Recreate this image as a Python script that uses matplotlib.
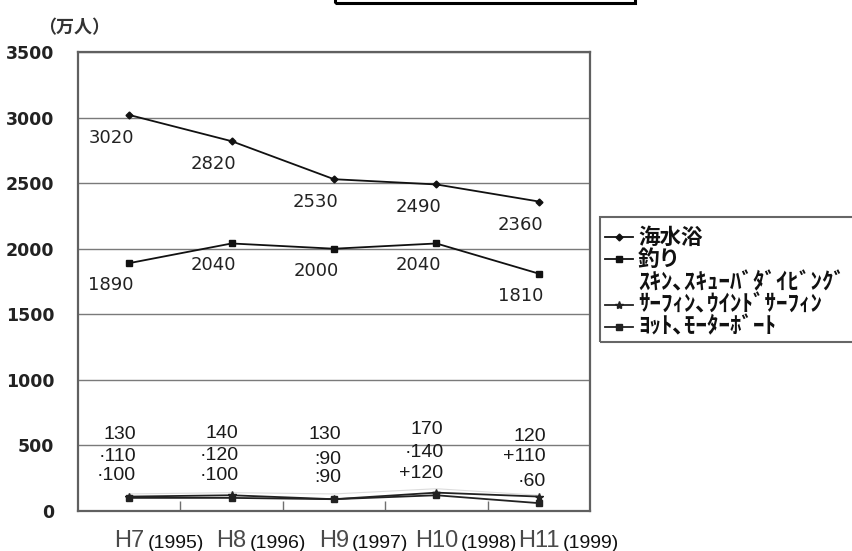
import matplotlib
matplotlib.use("Agg")
import matplotlib.pyplot as plt
from matplotlib.lines import Line2D
from matplotlib.patches import Rectangle

plt.rcParams['font.family'] = ['Noto Sans CJK JP', 'DejaVu Sans']

# Categories (Heisei year, Western year)
era_labels = ["H7", "H8", "H9", "H10", "H11"]
year_labels = ["(1995)", "(1996)", "(1997)", "(1998)", "(1999)"]

# Visitors, in units of 10,000 people
kaisuiyoku = [3020, 2820, 2530, 2490, 2360]
tsuri = [1890, 2040, 2000, 2040, 1810]
skin_scuba = [130, 140, 130, 170, 120]
surfing = [110, 120, 90, 140, 110]
yacht = [100, 100, 90, 120, 60]

series_names = ["海水浴", "釣り", "ｽｷﾝ､ｽｷｭｰﾊﾞﾀﾞｲﾋﾞﾝｸﾞ", "ｻｰﾌｨﾝ､ｳｲﾝﾄﾞｻｰﾌｨﾝ", "ﾖｯﾄ､ﾓｰﾀｰﾎﾞｰﾄ"]

# Prefix glyphs printed in front of the small-series values
surf_prefix = ["·", "·", ":", "·", "+"]
yacht_prefix = ["·", "·", ":", "+", "·"]

W, H = 853, 551
fig = plt.figure(figsize=(W / 100, H / 100), dpi=100)
fig.patch.set_facecolor("white")
ax = fig.add_axes([78 / W, 1 - 511 / H, (590 - 78) / W, (511 - 52) / H])


def px(xp, yp):
    """Figure pixel position (from top-left) to figure fraction."""
    return xp / W, 1 - yp / H


x = list(range(len(era_labels)))
ax.set_xlim(-0.5, len(x) - 0.5)
ax.set_ylim(0, 3500)

# grid and frame
ax.set_yticks(range(0, 3501, 500))
ax.yaxis.grid(True, color="#7a7a7a", lw=1.0)
ax.set_axisbelow(True)
for s in ax.spines.values():
    s.set_color("#606060")
    s.set_linewidth(1.6)
ax.tick_params(axis="y", length=0, pad=17)
for lab in ax.get_yticklabels():
    lab.set_family("DejaVu Sans")
    lab.set_weight("bold")
    lab.set_fontsize(12.5)
    lab.set_color("#222222")

# category boundary ticks along the bottom
ax.set_xticks([i + 0.5 for i in x[:-1]])
ax.set_xticklabels([])
ax.tick_params(axis="x", direction="in", length=7, width=1.0, color="#707070")

lw = 1.3
styles = [
    dict(color="#111111", lw=lw, marker="D", ms=3.5),
    dict(color="#111111", lw=lw, marker="s", ms=5),
    dict(color="#dcdcdc", lw=0.8),
    dict(color="#222222", lw=lw, marker="*", ms=6),
    dict(color="#222222", lw=lw, marker="s", ms=4.5),
]
all_series = [kaisuiyoku, tsuri, skin_scuba, surfing, yacht]
for vals, st in zip(all_series, styles):
    ax.plot(x, vals, **st)

# value labels for the two large series
lab_kw = dict(textcoords="offset pixels", ha="center", va="center",
              family="DejaVu Sans", fontsize=13, color="#222222")
for i in x:
    ax.annotate(str(kaisuiyoku[i]), (i, kaisuiyoku[i]), xytext=(-18, -23), **lab_kw)
    ax.annotate(str(tsuri[i]), (i, tsuri[i]), xytext=(-18, -22), **lab_kw)

# stacked value labels for the three small series
small_kw = dict(textcoords="offset pixels", ha="right", va="center",
                family="Liberation Sans", fontsize=14, color="#1a1a1a")
for i in x:
    ax.annotate(str(skin_scuba[i]), (i, skin_scuba[i]), xytext=(7, 59), **small_kw)
    ax.annotate(surf_prefix[i] + str(surfing[i]), (i, surfing[i]), xytext=(7, 40), **small_kw)
    ax.annotate(yacht_prefix[i] + str(yacht[i]), (i, yacht[i]), xytext=(7, 22), **small_kw)

# category labels: era name with the Western year beside it
for i in x:
    t = ax.annotate(era_labels[i], (i, 0), xycoords=ax.get_xaxis_transform(),
                    xytext=(0, -36), textcoords="offset pixels",
                    ha="center", va="baseline", family="Liberation Sans",
                    fontsize=17, color="#4a4a4a")
    ax.annotate(year_labels[i], (1, 0), xycoords=t, xytext=(3, 0),
                textcoords="offset pixels", ha="left", va="bottom",
                family="Liberation Sans", fontsize=14, color="#111111")

# unit label
fig.text(*px(38, 28), "（万人）", ha="left", va="center",
         fontsize=13, weight="bold", color="#333333")

# legend box with hand-placed rows
x0, y0, x1, y1 = 600, 217, 870, 342
fig.patches.append(Rectangle(px(x0, y1), (x1 - x0) / W, (y1 - y0) / H,
                             transform=fig.transFigure, fill=False,
                             edgecolor="#666666", lw=1.5, clip_on=False))
row_y = [237, 259, 283, 305, 327]
for k, (name, st) in enumerate(zip(series_names, styles)):
    if k != 2:
        hx = [605 / W, 619 / W, 633 / W]
        hy = [1 - row_y[k] / H] * 3
        fig.add_artist(Line2D(hx, hy, transform=fig.transFigure,
                              markevery=[1], **st))
    fig.text(*px(638, row_y[k]), name, ha="left", va="center",
             fontsize=15.5 if k < 2 else 16.5, weight="bold", color="#111111")

# title frame at the top edge
fig.patches.append(Rectangle(px(335, 3), 300 / W, 20 / H,
                             transform=fig.transFigure, fill=False,
                             edgecolor="black", lw=2.2, clip_on=False))

fig.savefig("out.png", dpi=100)
